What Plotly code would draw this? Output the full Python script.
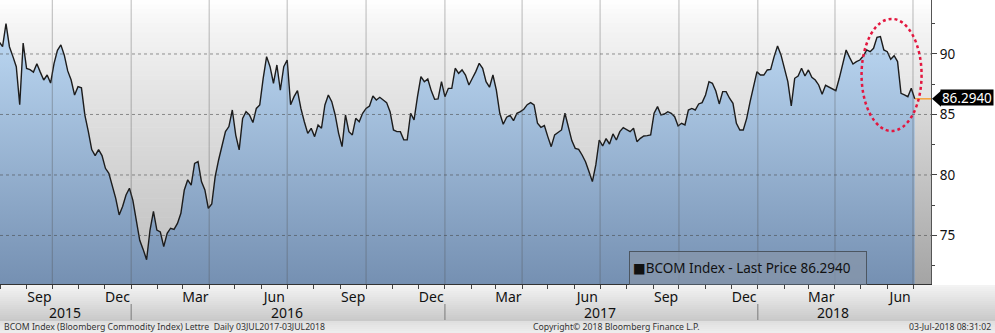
import plotly.graph_objects as go
import pandas as pd

# ---------------- data ----------------
series_name = "BCOM Index - Last Price"
last_price = 86.2940
end_date = "2018-07-03"
step = "4D"
values = [
    91.0, 90.6, 92.5, 90.6, 89.8, 88.95, 85.8, 90.9, 88.8, 88.7,
    88.5, 89.2, 88.5, 87.85, 88.26, 87.6, 89.2, 90.3, 90.75, 89.9,
    88.6, 87.85, 86.6, 87.3, 87.2, 84.95, 83.6, 82.1, 81.6, 82.1,
    81.6, 80.55, 80.14, 79.17, 78.07, 76.7, 77.4, 78.35, 78.9, 77.9,
    76.3, 74.6, 73.85, 73.0, 75.45, 77.0,
    75.45, 75.3, 74.08, 75.18, 75.6, 75.5, 76.0, 76.83, 78.76, 79.6,
    79.17, 80.96, 81.1, 79.45, 78.76, 77.25, 77.6, 79.86, 81.24, 82.34,
    83.58, 84.0, 85.37, 83.3, 82.07, 84.68, 85.23, 84.96, 84.33, 85.5,
    85.79, 87.99, 89.78, 88.95, 87.58, 89.09, 87.0, 88.95, 89.5, 85.8,
    86.47, 86.97, 85.5, 84.4, 83.44,
    83.86, 83.17, 84.13, 83.86, 85.79, 86.61, 86.06, 84.96, 83.44, 82.34,
    84.96, 83.58, 83.31, 84.68, 84.4, 85.1, 85.5, 85.7, 86.53, 86.2,
    86.42, 86.2, 85.98, 85.23, 83.72, 83.58, 83.58, 82.9, 82.9, 85.1,
    84.55, 86.47, 88.13, 87.71, 87.93, 86.97, 86.25, 86.28, 87.71, 86.47,
    87.16, 87.16, 88.82, 88.4, 88.68,
    88.26, 87.44, 87.99, 88.54, 89.23, 88.82, 87.71, 87.25, 88.26, 87.02,
    85.1, 84.19, 84.77, 84.93, 84.49, 85.1, 85.23, 85.43, 85.81, 85.98,
    85.79, 84.27, 83.94, 84.08, 83.17, 82.34, 83.31, 83.5, 83.72, 85.1,
    83.94, 82.84, 82.2, 82.12, 81.65, 81.1, 80.28, 79.45, 80.83, 82.89,
    82.4, 83.0, 82.56, 83.39, 82.89, 83.58,
    83.91, 83.72, 83.58, 83.86, 82.75, 83.03, 83.22, 83.25, 83.31, 85.1,
    85.65, 84.96, 85.04, 85.23, 85.1, 84.82, 84.05, 84.27, 84.13, 85.37,
    85.5, 85.37, 85.87, 85.98, 86.61, 87.71, 87.58, 86.94, 85.87, 86.89,
    86.89, 86.34, 85.92, 84.27, 83.72, 83.72, 84.68, 86.06, 87.44, 88.54,
    88.26, 88.26, 88.68, 88.73, 89.78,
    90.66, 89.92, 88.82, 87.71, 85.7, 87.99, 88.18, 88.82, 88.18, 88.68,
    88.07, 87.85, 87.44, 86.67, 87.41, 87.25, 87.08, 86.97, 87.99, 89.17,
    90.33, 89.72, 89.17, 89.37, 89.5, 89.83, 90.33, 90.19, 90.47, 91.38,
    91.43, 90.33, 90.19, 89.56, 89.86, 89.37, 86.75, 86.61, 86.47, 87.16,
    86.294,
]
month_tick_dates = ["2015-09-16", "2015-12-16", "2016-03-16", "2016-06-16",
                    "2016-09-16", "2016-12-16", "2017-03-16", "2017-06-16",
                    "2017-09-16", "2017-12-16", "2018-03-16", "2018-06-16"]
month_tick_labels = ["Sep", "Dec", "Mar", "Jun", "Sep", "Dec", "Mar", "Jun",
                     "Sep", "Dec", "Mar", "Jun"]
year_labels = ["2015", "2016", "2017", "2018"]
year_starts = ["2016-01-01", "2017-01-01", "2018-01-01"]
quarter_starts = ["2015-10-01", "2016-01-01", "2016-04-01", "2016-07-01",
                  "2016-10-01", "2017-01-01", "2017-04-01", "2017-07-01",
                  "2017-10-01", "2018-01-01", "2018-04-01", "2018-07-01"]
y_tick_vals = [75, 80, 85, 90]
y_minor_vals = [72.5, 77.5, 82.5, 87.5, 92.5]
footer_left = "BCOM Index (Bloomberg Commodity Index) Lettre  Daily 03JUL2017-03JUL2018"
footer_mid = "Copyright\u00a9 2018 Bloomberg Finance L.P."
footer_right = "03-Jul-2018 08:31:02"

dates = pd.date_range(end=end_date, periods=len(values), freq=step)
month_starts = list(pd.date_range("2015-08-01", "2018-07-01", freq="MS"))

# ---------------- layout constants ----------------
W, H = 995, 333
ML, MR, MT, MB = 0, 64, 0, 49
PW, PH = W - ML - MR, H - MT - MB
X_RANGE = ["2015-08-01", "2018-07-22"]
Y_RANGE = [70.99, 94.46]
FONT = "Noto Sans, DejaVu Sans, sans-serif"
GRID_H = "rgba(70,70,70,0.55)"
GRID_V = "rgba(80,80,80,0.38)"

_t0 = pd.Timestamp(X_RANGE[0])
_t1 = pd.Timestamp(X_RANGE[1])


def date2paper(d):
    return (pd.Timestamp(d) - _t0) / (_t1 - _t0)


def py2paper(py):
    return (PH - py) / PH


def px2paper(px):
    return px / PW


def grey(g):
    g = int(round(g))
    return f"rgb({g},{g},{g})"


fig = go.Figure()

# gray extension of the last value to the axis
fig.add_trace(go.Scatter(
    x=[dates[-1], X_RANGE[1]], y=[last_price, last_price], mode="lines",
    line=dict(color="#f5a23a", width=1.5), fill="tozeroy",
    fillgradient=dict(type="vertical", colorscale=[[0, "#a4a4a4"], [1, "#dcdcdc"]],
                      start=Y_RANGE[0], stop=last_price),
    showlegend=False, hoverinfo="skip"))

# main series
fig.add_trace(go.Scatter(
    x=dates, y=values, mode="lines", name=series_name,
    line=dict(color="#1c1c1c", width=1.4), fill="tozeroy",
    fillgradient=dict(type="vertical", colorscale=[[0, "#7590b2"], [1, "#c4e0fa"]],
                      start=Y_RANGE[0], stop=Y_RANGE[1]),
    showlegend=False))

shapes = []
# plot background gradient (white top -> gray bottom)
N = 60
for k in range(N):
    tt = (k + 0.5) / N
    g = 255 - 66 * (tt ** 0.8)
    shapes.append(dict(type="rect", xref="paper", yref="paper", x0=0, x1=1,
                       y0=1 - (k + 1) / N, y1=1 - k / N + 0.002, fillcolor=grey(g),
                       line=dict(width=0), layer="below"))
# label band below the plot
NB = 18
for k in range(NB):
    p0 = PH + 1 + k * 36 / NB
    p1 = PH + 1 + (k + 1) * 36 / NB
    g = 244 - 44 * ((k + 0.5) / NB)
    shapes.append(dict(type="rect", xref="paper", yref="paper", x0=0, x1=W / PW,
                       y0=py2paper(p1 + 0.3), y1=py2paper(p0), fillcolor=grey(g),
                       line=dict(width=0), layer="below"))
NF = 6
for k in range(NF):
    p0 = PH + 37 + k * 12 / NF
    p1 = PH + 37 + (k + 1) * 12 / NF
    g = 222 + 16 * ((k + 0.5) / NF)
    shapes.append(dict(type="rect", xref="paper", yref="paper", x0=0, x1=W / PW,
                       y0=py2paper(p1 + 0.3), y1=py2paper(p0), fillcolor=grey(g),
                       line=dict(width=0), layer="below"))

# grid drawn over the area fill
for q in quarter_starts:
    xp = date2paper(q)
    shapes.append(dict(type="line", xref="paper", yref="paper", x0=xp, x1=xp,
                       y0=0, y1=1, line=dict(color=GRID_V, width=1), layer="above"))
for v in y_tick_vals:
    shapes.append(dict(type="line", xref="paper", yref="y", x0=0, x1=1,
                       y0=v, y1=v,
                       line=dict(color=GRID_H, width=1, dash="dot"), layer="above"))
# year separators
for ys in year_starts:
    xp = date2paper(ys)
    shapes.append(dict(type="line", xref="paper", yref="paper", x0=xp, x1=xp,
                       y0=py2paper(304), y1=py2paper(320),
                       line=dict(color="#7a7a7a", width=1)))
# red dotted ellipse highlight
shapes.append(dict(type="circle", xref="x", yref="y", x0="2018-05-02", x1="2018-07-11",
                   y0=83.64, y1=92.9, line=dict(color="#e3173f", width=2.5, dash="dot"),
                   layer="above"))
# price tag arrow
shapes.append(dict(type="path", xref="paper", yref="y",
                   path=f"M {px2paper(932)},{last_price} L {px2paper(941)},{last_price + 0.66} "
                        f"L {px2paper(941)},{last_price - 0.66} Z",
                   fillcolor="#000000", line=dict(width=0)))

annotations = []
annotations.append(dict(xref="paper", yref="y", x=px2paper(940.5), y=last_price + 0.08,
                        xanchor="left", yanchor="middle", showarrow=False,
                        text=f"{last_price:.4f}", font=dict(family=FONT, size=13.5, color="white"),
                        bgcolor="#000000", borderpad=0, height=15, width=52))
annotations.append(dict(xref="paper", yref="paper", x=px2paper(629), y=py2paper(267.5),
                        xanchor="left", yanchor="middle", showarrow=False, align="left",
                        text=f"\u25a0{series_name} {last_price:.4f}", width=230, height=26,
                        font=dict(family=FONT, size=13.5, color="#111111"),
                        bgcolor="rgba(135,150,170,0.75)", bordercolor="#4c5661",
                        borderwidth=1, borderpad=3))
year_px = [65, 287, 600, 833]
for lab, xp in zip(year_labels, year_px):
    annotations.append(dict(xref="paper", yref="paper", x=px2paper(xp), y=py2paper(312),
                            xanchor="center", yanchor="middle", showarrow=False, text=lab,
                            font=dict(family=FONT, size=14, color="#111111")))
annotations.append(dict(xref="paper", yref="paper", x=px2paper(2), y=py2paper(326.5),
                        xanchor="left", yanchor="middle", showarrow=False, text=footer_left,
                        font=dict(family=FONT, size=8.7, color="#333333")))
annotations.append(dict(xref="paper", yref="paper", x=px2paper(616), y=py2paper(326.5),
                        xanchor="center", yanchor="middle", showarrow=False, text=footer_mid,
                        font=dict(family=FONT, size=8.7, color="#333333")))
annotations.append(dict(xref="paper", yref="paper", x=px2paper(993), y=py2paper(326.5),
                        xanchor="right", yanchor="middle", showarrow=False, text=footer_right,
                        font=dict(family=FONT, size=8.7, color="#333333")))

fig.update_layout(
    width=W, height=H, margin=dict(l=ML, r=MR, t=MT, b=MB, pad=0),
    paper_bgcolor="white", plot_bgcolor="rgba(0,0,0,0)",
    font=dict(family=FONT, color="#111111"),
    shapes=shapes, annotations=annotations, showlegend=False,
)
fig.update_xaxes(
    type="date", range=X_RANGE, tickmode="array", tickvals=month_tick_dates,
    ticktext=month_tick_labels, ticks="", showgrid=False, zeroline=False,
    showline=True, linecolor="#333333", linewidth=1,
    tickfont=dict(family=FONT, size=14, color="#111111"),
    minor=dict(tickmode="array", tickvals=month_starts, ticks="outside", ticklen=4,
               tickcolor="#444444", showgrid=False),
)
fig.update_yaxes(
    side="right", range=Y_RANGE, tickmode="array", tickvals=y_tick_vals,
    ticks="outside", ticklen=5, tickcolor="#444444", showgrid=False, zeroline=False,
    showline=True, linecolor="#555555", linewidth=1,
    tickfont=dict(family=FONT, size=13.5, color="#111111"),
    minor=dict(tickmode="array", tickvals=y_minor_vals, ticks="outside", ticklen=3,
               tickcolor="#444444", showgrid=False),
)

fig.write_html("out.html")
